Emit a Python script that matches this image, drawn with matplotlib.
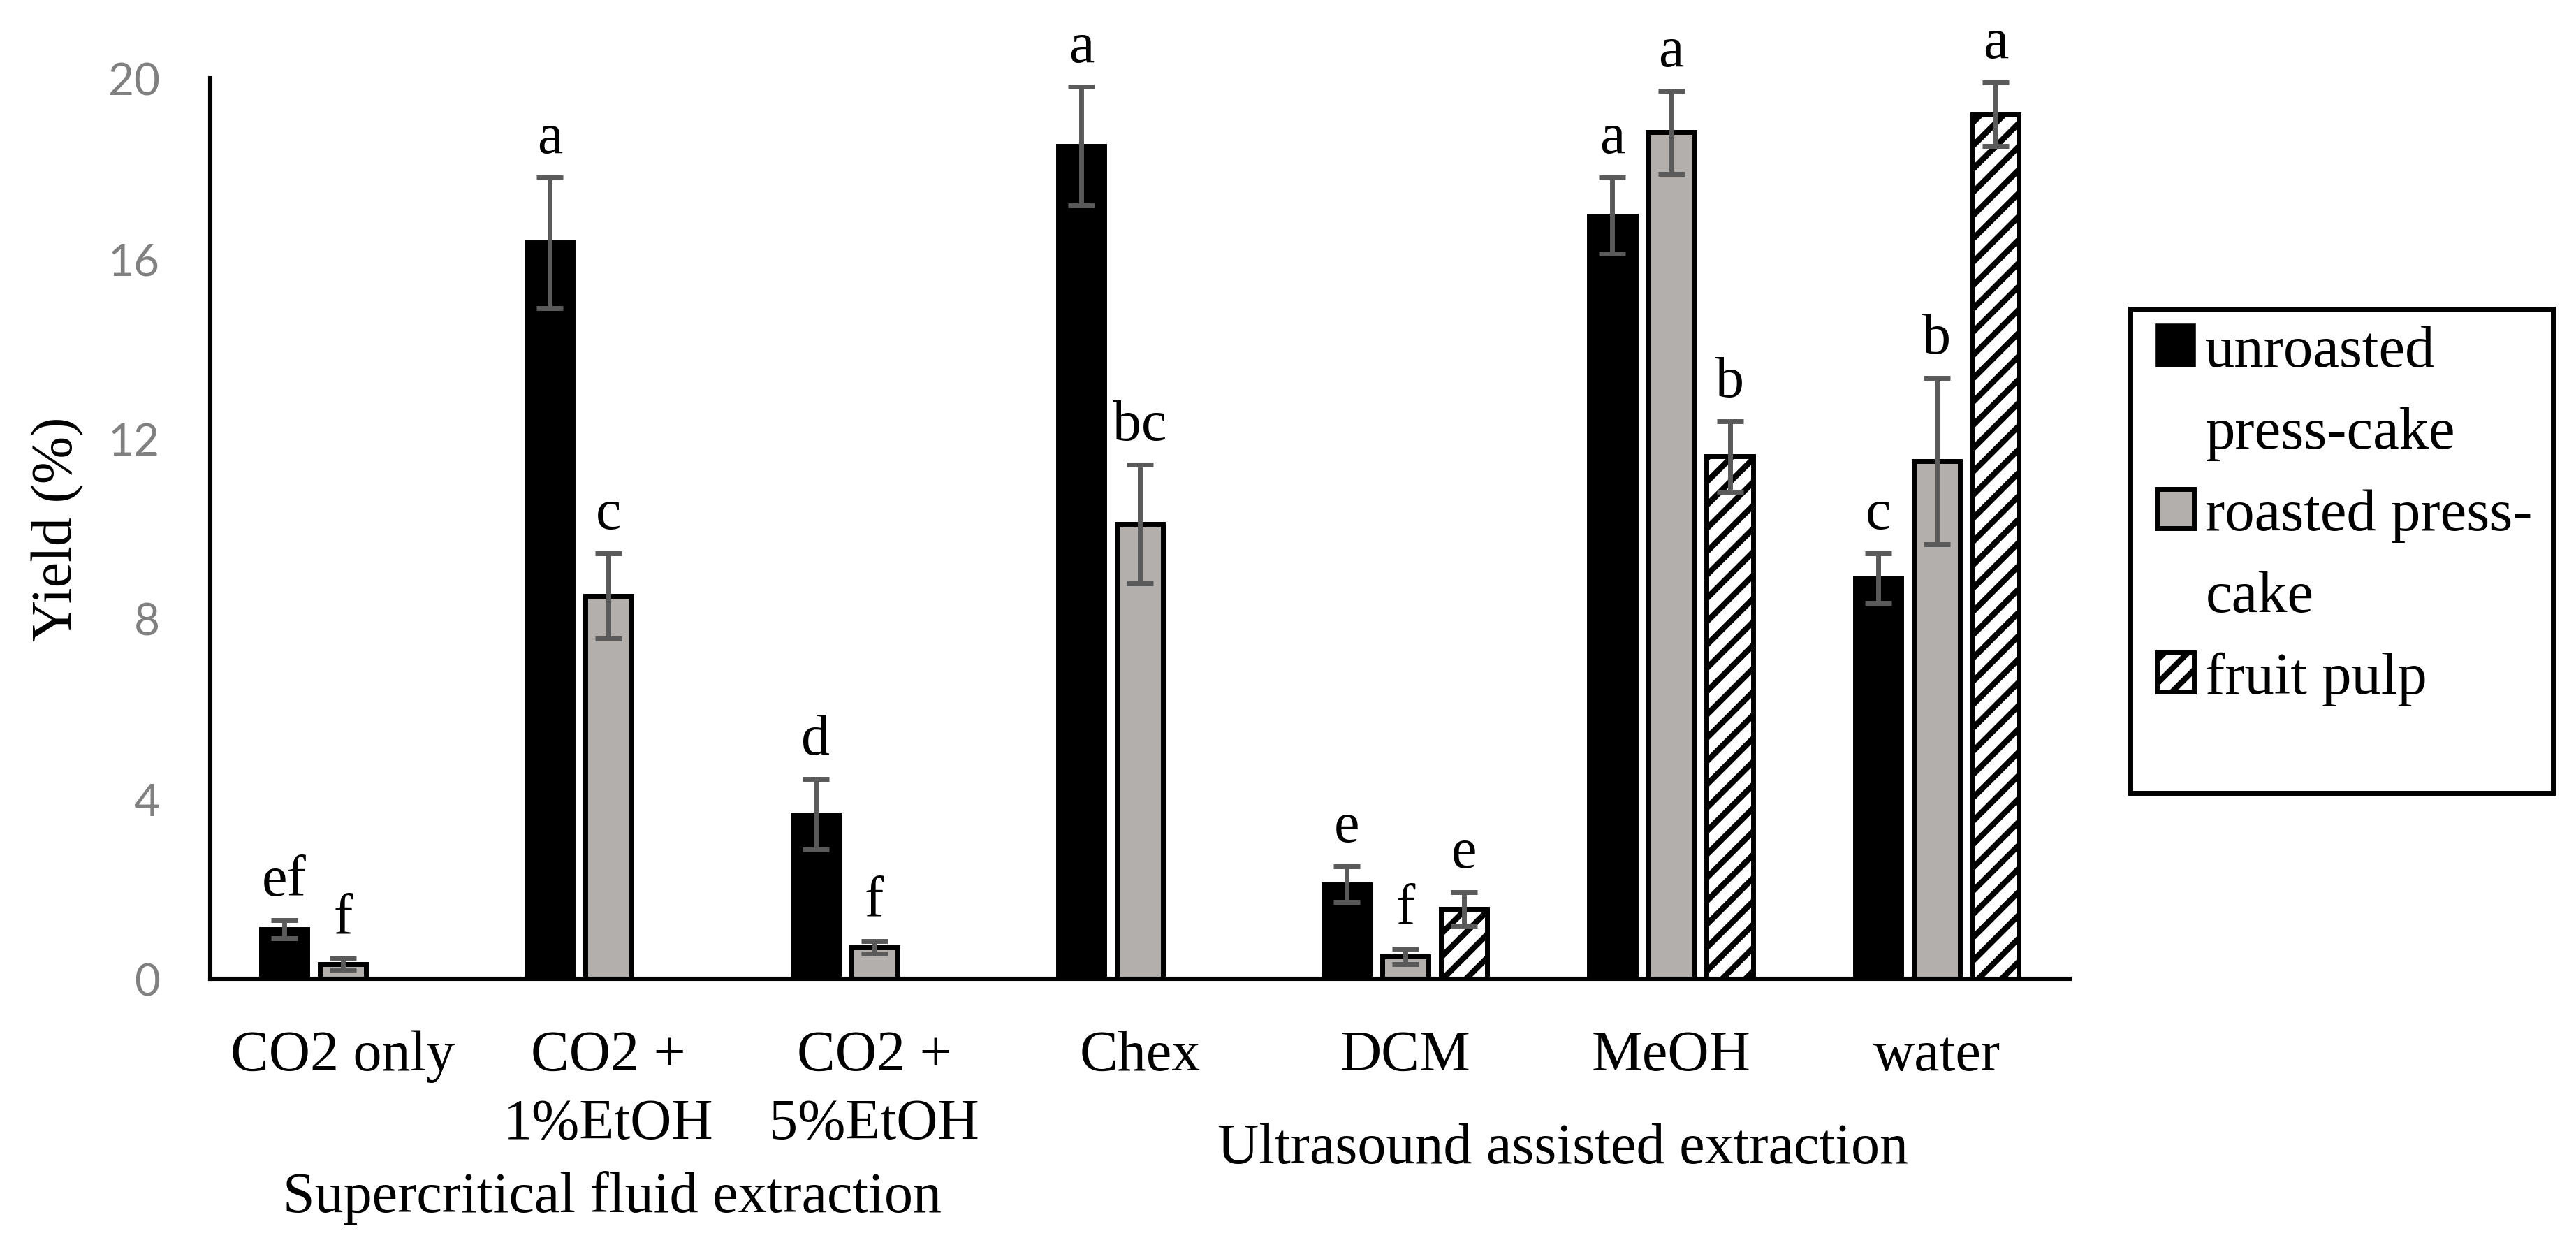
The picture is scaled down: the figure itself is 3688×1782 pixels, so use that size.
import numpy as np
import matplotlib
matplotlib.use("Agg")
import matplotlib.pyplot as plt
from matplotlib.patches import Patch, Rectangle

plt.rcParams['font.family'] = ['Liberation Serif', 'DejaVu Serif']
plt.rcParams['hatch.linewidth'] = 3.0
plt.rcParams['hatch.color'] = 'black'

# data
categories = ['CO2 only', 'CO2 +\n1%EtOH', 'CO2 +\n5%EtOH', 'Chex', 'DCM', 'MeOH', 'water']
unroasted = [1.1, 16.35, 3.65, 18.5, 2.1, 16.95, 8.9]
unroasted_err = [0.2, 1.45, 0.78, 1.32, 0.4, 0.85, 0.55]
roasted = [0.33, 8.5, 0.7, 10.1, 0.5, 18.8, 11.5]
roasted_err = [0.13, 0.95, 0.14, 1.32, 0.17, 0.92, 1.85]
pulp = [np.nan, np.nan, np.nan, np.nan, 1.55, 11.6, 19.2]
pulp_err = [np.nan, np.nan, np.nan, np.nan, 0.37, 0.78, 0.7]
letters_unroasted = ['ef', 'a', 'd', 'a', 'e', 'a', 'c']
letters_roasted = ['f', 'c', 'f', 'bc', 'f', 'a', 'b']
letters_pulp = ['', '', '', '', 'e', 'b', 'a']
yticks = [0, 4, 8, 12, 16, 20]

FS = 29.5
x = np.arange(len(categories))
step = 0.221
width = 0.174

fig = plt.figure(figsize=(18.44, 8.915), dpi=200)
ax = fig.add_axes([0.0816, 0.2137, 0.7218, 0.7229])

err_kw = dict(ecolor='#5a5a5a', elinewidth=2.5, capsize=6.8, capthick=2.5)

ax.bar(x - step, unroasted, width, color='black', edgecolor='black', linewidth=2.5,
       yerr=unroasted_err, error_kw=err_kw, zorder=2)
ax.bar(x, roasted, width, color='#b3afad', edgecolor='black', linewidth=2.5,
       yerr=roasted_err, error_kw=err_kw, zorder=2)
ax.bar(x + step, pulp, width, color='white', edgecolor='black', linewidth=2.5,
       hatch='//', yerr=pulp_err, error_kw=err_kw, zorder=2)

# significance letters above the error bars
for offs, vals, errs, labs in [(-step, unroasted, unroasted_err, letters_unroasted),
                               (0, roasted, roasted_err, letters_roasted),
                               (step, pulp, pulp_err, letters_pulp)]:
    for xi, v, e, t in zip(x, vals, errs, labs):
        if t and not np.isnan(v):
            ax.annotate(t, (xi + offs, v + e), xytext=(0, 13), textcoords='offset points',
                        ha='center', va='baseline', fontsize=FS)

ax.set_xlim(-0.5, len(categories) - 0.5)
ax.set_ylim(0, 20)
ax.set_yticks(yticks)
ax.set_yticklabels([str(t) for t in yticks], family=['Lato', 'DejaVu Sans'],
                   color='#808080', fontsize=23)
ax.tick_params(axis='y', length=0, pad=26)
ax.set_xticks(x)
ax.set_xticklabels(categories, fontsize=FS, linespacing=1.4)
ax.tick_params(axis='x', length=0, pad=26)

for s in ['top', 'right']:
    ax.spines[s].set_visible(False)
for s in ['left', 'bottom']:
    ax.spines[s].set_linewidth(2.2)
    ax.spines[s].set_color('black')

ax.set_ylabel('Yield (%)', fontsize=FS)
ax.yaxis.set_label_coords(-0.068, 0.5)

fig.text(876 / 3688, 1 - 1715 / 1783, 'Supercritical fluid extraction', ha='center',
         va='center', fontsize=FS)
fig.text(2237 / 3688, 1 - 1645 / 1783, 'Ultrasound assisted extraction', ha='center',
         va='center', fontsize=FS)

# legend: continuation lines get invisible handles so the swatch sits by the first line
blank = Patch(facecolor='none', edgecolor='none')
handles = [Patch(facecolor='black', edgecolor='black', linewidth=2),
           blank,
           Patch(facecolor='#b3afad', edgecolor='black', linewidth=2.5),
           blank,
           Patch(facecolor='white', edgecolor='black', linewidth=2.5, hatch='//')]
labels = ['unroasted', 'press-cake', 'roasted press-', 'cake', 'fruit pulp']
fig.legend(handles, labels, loc='upper left', bbox_to_anchor=(0.8373, 0.7386),
           frameon=False, fontsize=30.5, handlelength=0.63, handleheight=0.65,
           handletextpad=0.19, labelspacing=0.47, borderpad=0, borderaxespad=0)
fig.add_artist(Rectangle((3050 / 3688, 1 - 1136 / 1783), 605 / 3688, 693 / 1783,
                         transform=fig.transFigure, fill=False, edgecolor='black',
                         linewidth=2.5))

fig.savefig('out.png', dpi=200, facecolor='white')
